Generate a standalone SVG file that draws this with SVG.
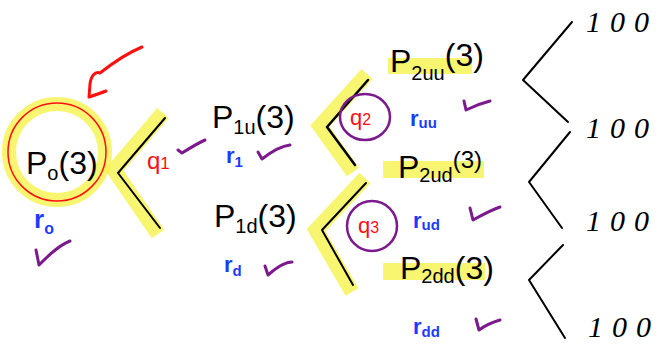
<svg xmlns="http://www.w3.org/2000/svg" width="659" height="346" viewBox="0 0 659 346">
<style>
.t{font-family:"Liberation Sans",Arial,sans-serif;fill:#000}
.p{font-size:32px}
.s{font-size:20px}
.b{fill:#1a3cff;font-family:"Liberation Sans",Arial,sans-serif;font-weight:bold}
.r{fill:#ff1010;font-family:"Liberation Sans",Arial,sans-serif}
.ck{fill:none;stroke:#7a1a8c;stroke-width:3;stroke-linecap:round;stroke-linejoin:round}
.hl{fill:none;stroke:#f6f140;stroke-width:15;stroke-linejoin:miter;stroke-linecap:butt;opacity:0.75}
.ln{fill:none;stroke:#000;stroke-width:2;stroke-linecap:round;stroke-linejoin:round}
.ln2{fill:none;stroke:#000;stroke-width:2.5;stroke-linecap:round;stroke-linejoin:round}
.hund{font-family:"Liberation Serif",serif;font-style:italic;font-size:30px;letter-spacing:9px}
.hb{fill:#f6f140;opacity:0.75}
</style>
<rect width="659" height="346" fill="#fff"/>

<g id="connectors">
  <polyline class="hl" points="163,113 114,170 158,234"/>
  <polyline class="ln" points="165,118 118,173 160,228"/>
  <polyline class="hl" points="367,74 320,126 353,172"/>
  <polyline class="ln2" points="368,80 327,127 355,165"/>
  <polyline class="hl" points="365,178 316,230 352,292"/>
  <polyline class="ln" points="366,183 322,230 353,285"/>
  <polyline class="ln" points="572,22 523,80 568,122"/>
  <polyline class="ln" points="570,132 529,182 562,228"/>
  <polyline class="ln" points="563,245 529,280 565,338"/>
</g>

<g id="arrow">
  <path d="M142,47 C130,52 114,62 100,73 C95,71 91,76 90,84 L89,97 C95,95 101,93 106,91" fill="none" stroke="#ff1010" stroke-width="3" stroke-linecap="round" stroke-linejoin="round"/>
</g>

<g id="node-p0">
  <ellipse cx="57" cy="152" rx="48" ry="48" fill="none" stroke="#f6f140" stroke-width="14" opacity="0.75"/>
  <ellipse cx="57" cy="152" rx="49" ry="49" fill="none" stroke="#ff1010" stroke-width="1.5"/>
  <text class="t p" x="26" y="174">P<tspan class="s" dy="6">o</tspan><tspan dy="-6">(3)</tspan></text>
  <text class="b" x="34" y="228" font-size="26">r<tspan font-size="16" dy="6">o</tspan></text>
  <path class="ck" d="M36,250 L39,265 C48,256 58,246 70,241"/>
</g>

<g id="q1">
  <text class="r" x="147" y="169" font-size="24">q<tspan font-size="17" dy="0">1</tspan></text>
  <path class="ck" d="M178,150 L182,153 C190,148 198,143 205,140"/>
</g>

<g id="node-p1u">
  <text class="t p" x="212" y="128">P<tspan class="s" dy="6">1u</tspan><tspan dy="-6">(3)</tspan></text>
  <text class="b" x="226" y="163" font-size="22">r<tspan font-size="15" dy="4">1</tspan></text>
  <path class="ck" d="M258,152 L262,159 C271,152 281,146 290,145"/>
</g>

<g id="node-p1d">
  <text class="t p" x="214" y="227">P<tspan class="s" dy="6">1d</tspan><tspan dy="-6">(3)</tspan></text>
  <text class="b" x="224" y="272" font-size="22">r<tspan font-size="15" dy="4">d</tspan></text>
  <path class="ck" d="M265,266 L268,275 C276,268 284,262 292,262"/>
</g>

<g id="q2">
  <ellipse cx="365" cy="117" rx="25" ry="23" fill="none" stroke="#7a1a8c" stroke-width="2.5"/>
  <text class="r" x="350" y="125" font-size="22">q<tspan font-size="16" dy="0">2</tspan></text>
</g>

<g id="q3">
  <ellipse cx="372" cy="226" rx="25" ry="25" fill="none" stroke="#7a1a8c" stroke-width="2.5"/>
  <text class="r" x="358" y="233" font-size="22">q<tspan font-size="16" dy="0">3</tspan></text>
</g>

<g id="node-p2uu">
  <rect class="hb" x="388" y="58" width="84" height="16"/>
  <text class="t p" x="390" y="72">P<tspan class="s" dy="8">2uu</tspan><tspan dy="-14">(3)</tspan></text>
  <text class="b" x="410" y="126" font-size="22">r<tspan font-size="15" dy="2">uu</tspan></text>
  <path class="ck" d="M464,101 L466,110 C474,106 482,103 490,101"/>
</g>

<g id="node-p2ud">
  <rect class="hb" x="383" y="161" width="101" height="17"/>
  <text class="t p" x="398" y="178">P<tspan class="s" dy="4">2ud</tspan><tspan dy="-14" font-size="24">(3)</tspan></text>
  <text class="b" x="413" y="228" font-size="22">r<tspan font-size="15" dy="2">ud</tspan></text>
  <path class="ck" d="M470,208 L473,220 C482,215 491,210 500,207"/>
</g>

<g id="node-p2dd">
  <rect class="hb" x="383" y="263" width="102" height="17"/>
  <text class="t p" x="400" y="279">P<tspan class="s" dy="4">2dd</tspan><tspan dy="-4">(3)</tspan></text>
  <text class="b" x="413" y="334" font-size="22">r<tspan font-size="15" dy="3">dd</tspan></text>
  <path class="ck" d="M476,319 L479,330 C486,325 493,322 500,320"/>
</g>

<g id="leaf-1"><text class="t hund" x="586" y="32">100</text></g>
<g id="leaf-2"><text class="t hund" x="586" y="138">100</text></g>
<g id="leaf-3"><text class="t hund" x="586" y="231">100</text></g>
<g id="leaf-4"><text class="t hund" x="588" y="337">100</text></g>
</svg>
